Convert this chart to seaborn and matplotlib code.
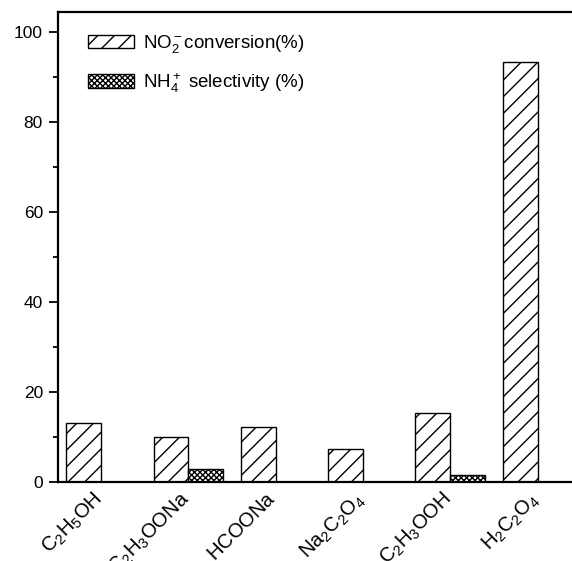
import numpy as np
import pandas as pd
import matplotlib
matplotlib.use("Agg")
import matplotlib.pyplot as plt
import matplotlib.patches as mpatches
import matplotlib.transforms as mtransforms
import seaborn as sns

categories = [r"$\mathregular{C_2H_5OH}$", r"$\mathregular{C_2H_3OONa}$", r"$\mathregular{HCOONa}$",
              r"$\mathregular{Na_2C_2O_4}$", r"$\mathregular{C_2H_3OOH}$", r"$\mathregular{H_2C_2O_4}$"]
series_names = [r"$\mathregular{NO_2^-}$conversion(%)", r"$\mathregular{NH_4^+}$ selectivity (%)"]
conversion = [13.1, 10.0, 12.2, 7.3, 15.3, 93.2]
selectivity = [np.nan, 2.9, np.nan, np.nan, 1.6, np.nan]
yticks = [0, 20, 40, 60, 80, 100]

sns.set_style("ticks", rc={"axes.edgecolor": "black", "text.color": "black",
                           "xtick.color": "black", "ytick.color": "black",
                           "axes.labelcolor": "black"})
plt.rcParams['font.family'] = ['Liberation Sans', 'DejaVu Sans']
plt.rcParams['mathtext.fontset'] = 'custom'
plt.rcParams['mathtext.rm'] = 'Liberation Sans'
plt.rcParams['mathtext.it'] = 'Liberation Sans:italic'
plt.rcParams['mathtext.bf'] = 'Liberation Sans:bold'
plt.rcParams['hatch.linewidth'] = 1.0
plt.rcParams['hatch.color'] = 'black'

df = pd.DataFrame({
    "cat": categories * 2,
    "value": conversion + selectivity,
    "series": [series_names[0]] * len(categories) + [series_names[1]] * len(categories),
})

W, H = 572, 561
fig = plt.figure(figsize=(W / 100, H / 100), dpi=100)
ax_left, ax_right = 57.5, 57.5 + 6 * 87.3
ax_top, ax_bot = 12, 482
ax = fig.add_axes([ax_left / W, 1 - ax_bot / H, (ax_right - ax_left) / W, (ax_bot - ax_top) / H])

sns.barplot(data=df, x="cat", y="value", hue="series", hue_order=series_names,
            order=categories, palette=["white", "white"], edgecolor="black",
            linewidth=1.0, width=0.8, errorbar=None, legend=False, ax=ax)

hatches = ["//", "xxxxxx"]
for cont, h in zip(ax.containers, hatches):
    for bar in cont:
        bar.set_hatch(h)

ax.set_xlim(-0.5, 5.5)
ax.set_ylim(0, 104.4)
ax.set_yticks(yticks)
ax.set_yticks(np.arange(10, 101, 20), minor=True)
ax.set_xlabel("")
ax.set_ylabel("")
for s in ["left", "top", "bottom"]:
    ax.spines[s].set_linewidth(1.6)
    ax.spines[s].set_visible(True)
    ax.spines[s].set_color("black")
ax.spines["right"].set_visible(False)
ax.tick_params(axis="y", which="major", length=6.5, width=1.3, labelsize=12.5, pad=4, direction="out")
ax.tick_params(axis="y", which="minor", length=3.5, width=1.3, direction="out")
ax.tick_params(axis="x", length=0, labelsize=14.5, pad=5)
offset = mtransforms.ScaledTranslation(-9 / 100, 0, fig.dpi_scale_trans)
for lab in ax.get_xticklabels():
    lab.set_rotation(45)
    lab.set_ha("right")
    lab.set_va("top")
    lab.set_rotation_mode("anchor")
    lab.set_transform(lab.get_transform() + offset)

handles = [mpatches.Patch(facecolor="white", edgecolor="black", hatch=hatches[0], linewidth=1.0),
           mpatches.Patch(facecolor="white", edgecolor="black", hatch=hatches[1], linewidth=1.0)]
ax.legend(handles, series_names, loc="upper left", bbox_to_anchor=(88 / W, 1 - 33 / H),
          bbox_transform=fig.transFigure, frameon=False, fontsize=13.5,
          handlelength=2.45, handleheight=0.75, handletextpad=0.5, labelspacing=0.85,
          borderpad=0, borderaxespad=0)

fig.savefig("out.png", dpi=100)
